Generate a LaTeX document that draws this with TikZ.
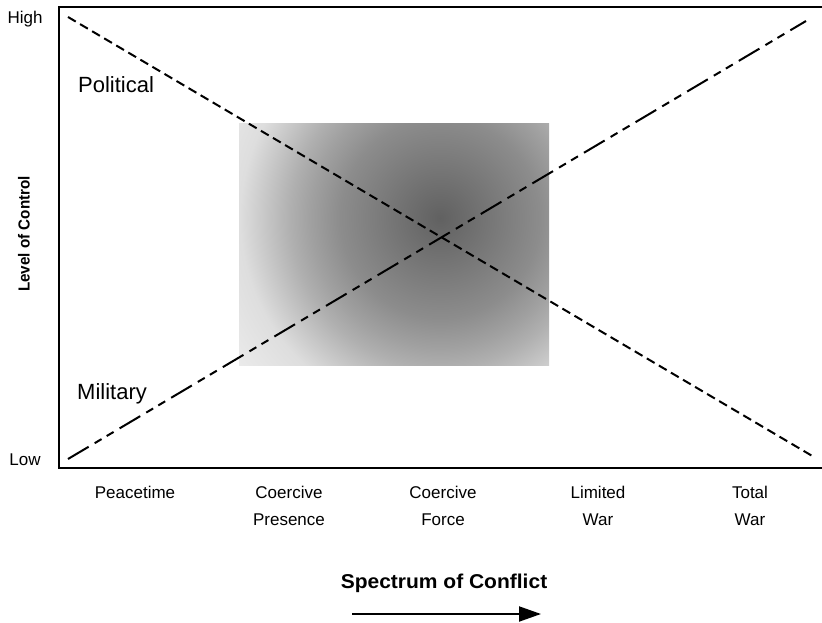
\documentclass[tikz,border=0pt]{standalone}
\usepackage{fontspec}
\setmainfont{Liberation Sans}
\newfontfamily\widebold{Liberation Sans}[FakeStretch=1.05]
\newfontfamily\narbold{Liberation Sans}[FakeStretch=0.95]
\usetikzlibrary{arrows.meta}
\definecolor{sA}{gray}{0.38}
\definecolor{sB}{gray}{0.55}
\definecolor{sC}{gray}{0.63}
\definecolor{sD}{gray}{0.69}
\definecolor{sG}{gray}{0.78}
\definecolor{sE}{gray}{0.87}
\definecolor{sF}{gray}{0.92}
\pgfdeclareradialshading{ctrshade}{\pgfpoint{0bp}{0bp}}{color(0bp)=(sA); color(10bp)=(sB); color(13bp)=(sC); color(15bp)=(sD); color(17.5bp)=(sG); color(20bp)=(sE); color(25bp)=(sF); color(50bp)=(sF)}
\tikzset{
  axislbl/.style={font=\fontsize{17}{20}\selectfont, inner sep=0pt},
  catlbl/.style={font=\fontsize{17}{27}\selectfont, align=center, inner sep=0pt, anchor=base},
  curvelbl/.style={font=\fontsize{22}{26}\selectfont, inner sep=0pt, anchor=base west},
  frameline/.style={line width=2pt},
  polline/.style={line width=2pt, dash pattern=on 9pt off 5pt},
  milline/.style={line width=2pt, dash pattern=on 24pt off 7pt on 8pt off 6pt on 8pt off 7pt},
}
\begin{document}
\begin{tikzpicture}[x=1pt,y=-1pt]
\useasboundingbox (0,0) rectangle (822,623);
% shaded zone
\begin{scope}
\clip (239,124) rectangle (549,365);
\shade[shading=ctrshade] (440,218) circle[radius=250pt];
\end{scope}
% frame
\coordinate (tr) at (824,7);
\coordinate (tl) at (59,7);
\coordinate (bl) at (59,468);
\coordinate (br) at (824,468);
\draw[frameline] (tr) -- (tl) -- (bl) -- (br);
% curves
\coordinate (p1) at (68,17);
\coordinate (p2) at (814,457);
\coordinate (m1) at (68,459);
\coordinate (m2) at (806,21);
\draw[polline] (p1) -- (p2);
\draw[milline] (m1) -- (m2);
% labels
\node[axislbl] (high) at (25,19) {High};
\node[axislbl] (low) at (25,460) {Low};
\node[curvelbl] (pol) at (78,93) {Political};
\node[curvelbl] (mil) at (77,399) {Military};
\node[inner sep=0pt, rotate=90, font=\narbold\bfseries\fontsize{16}{19}\selectfont] (loc) at (24,234) {Level of Control};
\node[catlbl] (c1) at (135,498) {Peacetime};
\node[catlbl] (c2) at (289,525) {Coercive\\Presence};
\node[catlbl] (c3) at (443,525) {Coercive\\Force};
\node[catlbl] (c4) at (598,525) {Limited\\War};
\node[catlbl] (c5) at (750,525) {Total\\War};
\node[inner sep=0pt, anchor=base, font=\widebold\bfseries\fontsize{20}{23}\selectfont] (soc) at (444,588) {Spectrum of Conflict};
\coordinate (a1) at (352,614);
\coordinate (a2) at (541,614);
\draw[line width=2pt, -{Triangle[length=22pt,width=15pt]}] (a1) -- (a2);
\end{tikzpicture}
\end{document}
